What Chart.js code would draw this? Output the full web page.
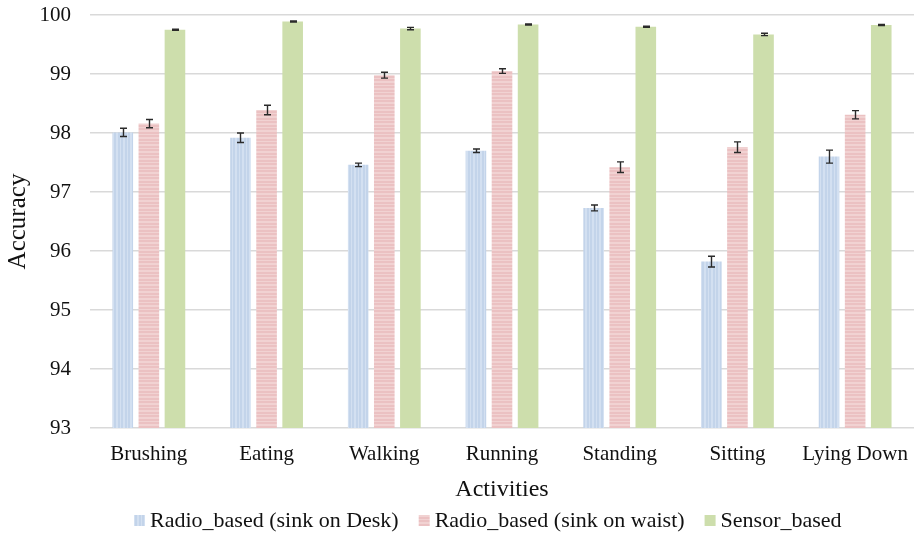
<!DOCTYPE html>
<html>
<head>
<meta charset="utf-8">
<script src="https://cdn.jsdelivr.net/npm/chart.js@4.4.1/dist/chart.umd.min.js"></script>
<style>
  html, body { margin: 0; padding: 0; background: #fff; }
  canvas { display: block; }
</style>
</head>
<body>
<canvas id="acc-chart" width="917" height="539"></canvas>
<script>
// activity labels along the x axis
const activities = ["Brushing", "Eating", "Walking", "Running", "Standing", "Sitting", "Lying Down"];

// mean accuracy per activity
const deskAcc = [98.01, 97.92, 97.46, 97.70, 96.73, 95.82, 97.60];
const waistAcc = [98.16, 98.39, 98.98, 99.05, 97.42, 97.76, 98.31];
const sensorAcc = [99.75, 99.89, 99.77, 99.84, 99.80, 99.67, 99.83];

// +/- error per activity
const deskErr = [0.07, 0.08, 0.03, 0.03, 0.05, 0.09, 0.11];
const waistErr = [0.07, 0.08, 0.05, 0.04, 0.09, 0.09, 0.07];
const sensorErr = [0.01, 0.01, 0.02, 0.01, 0.01, 0.02, 0.01];

const yTicks = [93, 94, 95, 96, 97, 98, 99, 100];

const seriesNames = [
  "Radio_based (sink on Desk)",
  "Radio_based (sink on waist)",
  "Sensor_based",
];

const FONT = "'Liberation Serif', 'Times New Roman', serif";

//~~~~~~~~~~~~~~~~~~~~~~~~~~~~~~~~~~~~~~~~~~~~~~~~~~~~~~~~~~~~~~~~~~~~~~~~~
// striped fills
const makeStripes = (base, light, vertical) => {
  const c = document.createElement("canvas");
  c.width = 7;
  c.height = 7;
  const g = c.getContext("2d");
  g.fillStyle = base;
  g.fillRect(0, 0, 7, 7);
  g.fillStyle = light;
  if (vertical) {
    g.fillRect(1, 0, 1, 7);
    g.fillRect(4, 0, 2, 7);
  } else {
    g.fillRect(0, 1, 7, 1);
    g.fillRect(0, 4, 7, 2);
  }
  return g.createPattern(c, "repeat");
};

const bluePattern = makeStripes("#c3d4ea", "#d3e0f1", true);
const pinkPattern = makeStripes("#ebc1c2", "#f1d2d2", false);
const greenFill = "#cddeac";

const swatches = [bluePattern, pinkPattern, greenFill];

//~~~~~~~~~~~~~~~~~~~~~~~~~~~~~~~~~~~~~~~~~~~~~~~~~~~~~~~~~~~~~~~~~~~~~~~~~
// error bars, drawn from each bar's x and the y scale
const errorBars = {
  id: "errorBars",
  afterDatasetsDraw(chart) {
    const ctx = chart.ctx;
    const y = chart.scales.y;
    ctx.save();
    ctx.strokeStyle = "#2a2a2a";
    ctx.lineWidth = 1.4;
    chart.data.datasets.forEach((ds, di) => {
      const meta = chart.getDatasetMeta(di);
      meta.data.forEach((bar, i) => {
        const v = ds.data[i];
        const e = ds.errors[i];
        const top = y.getPixelForValue(v + e);
        const bot = y.getPixelForValue(v - e);
        const x = Math.round(bar.x) + 0.5;
        ctx.beginPath();
        ctx.moveTo(x, top);
        ctx.lineTo(x, bot);
        ctx.moveTo(x - 3.5, top);
        ctx.lineTo(x + 3.5, top);
        ctx.moveTo(x - 3.5, bot);
        ctx.lineTo(x + 3.5, bot);
        ctx.stroke();
      });
    });
    ctx.restore();
  },
};

// legend row under the axis title
const bottomLegend = {
  id: "bottomLegend",
  afterDraw(chart) {
    const ctx = chart.ctx;
    ctx.save();
    ctx.font = "22px " + FONT;
    ctx.textBaseline = "middle";
    let x = 134;
    const cy = 521;
    chart.data.datasets.forEach((ds, di) => {
      ctx.fillStyle = swatches[di];
      ctx.fillRect(x, cy - 6, 11, 11);
      ctx.fillStyle = "#111";
      ctx.fillText(ds.label, x + 16, cy);
      x += 16 + ctx.measureText(ds.label).width + 20;
    });
    ctx.restore();
  },
};

//~~~~~~~~~~~~~~~~~~~~~~~~~~~~~~~~~~~~~~~~~~~~~~~~~~~~~~~~~~~~~~~~~~~~~~~~~
const barStyle = {
  categoryPercentage: 0.665,
  barPercentage: 0.79,
  borderWidth: 0,
};

let config = {
  type: "bar",
  data: {
    labels: activities,
    datasets: [
      { label: seriesNames[0], data: deskAcc, errors: deskErr, backgroundColor: bluePattern, ...barStyle },
      { label: seriesNames[1], data: waistAcc, errors: waistErr, backgroundColor: pinkPattern, ...barStyle },
      { label: seriesNames[2], data: sensorAcc, errors: sensorErr, backgroundColor: greenFill, ...barStyle },
    ],
  },
  options: {
    responsive: false,
    animation: false,
    layout: { padding: { left: 0, right: 3, top: 3, bottom: 35 } },
    plugins: {
      legend: { display: false },
      tooltip: { enabled: false },
    },
    scales: {
      x: {
        afterFit: (scale) => {
          scale.paddingLeft = 0;
          scale.paddingRight = 0;
        },
        grid: { display: false, drawTicks: false },
        border: { display: false },
        ticks: {
          padding: 14,
          color: "#111",
          font: { family: FONT, size: 21 },
        },
        title: {
          display: true,
          text: "Activities",
          color: "#111",
          padding: { top: -6, bottom: 0 },
          font: { family: FONT, size: 24 },
        },
      },
      y: {
        min: 93,
        max: 100,
        afterBuildTicks: (scale) => {
          scale.ticks = yTicks.map((v) => ({ value: v }));
        },
        afterFit: (scale) => {
          scale.width = 90;
          // keep only room for half a label above the top grid line
          scale.paddingTop = 15;
          scale.paddingBottom = 12;
        },
        grid: { color: "#d9d9d9", lineWidth: 1.5, drawTicks: false },
        border: { display: false },
        ticks: {
          padding: 19,
          color: "#111",
          font: { family: FONT, size: 21 },
        },
        title: {
          display: true,
          text: "Accuracy",
          color: "#111",
          padding: { top: 3, bottom: 0 },
          font: { family: FONT, size: 25 },
        },
      },
    },
  },
  plugins: [errorBars, bottomLegend],
};

let accChart = new Chart(document.getElementById("acc-chart"), config);
</script>
</body>
</html>
